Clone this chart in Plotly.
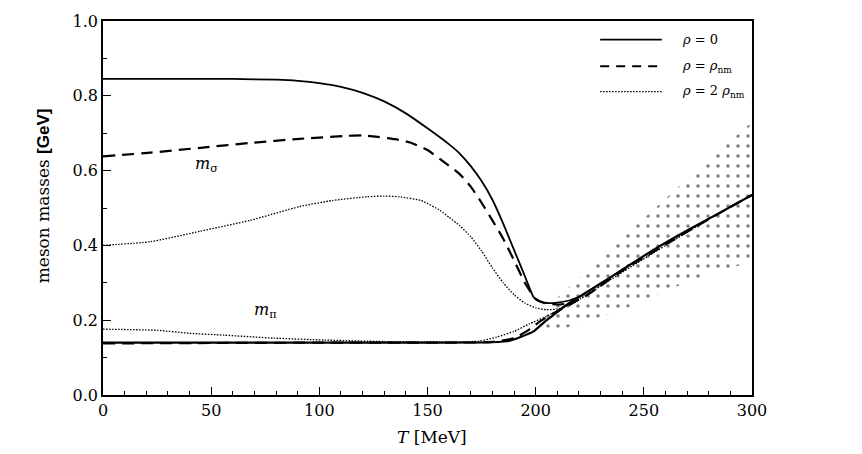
import plotly.graph_objects as go

# ---------------- data ----------------
# sigma mass, rho = 0
T_sig0 = [0, 20, 40, 60, 80, 90, 100, 110, 120, 130, 140, 150, 160, 165, 170, 175, 180, 185, 190, 195, 199, 201, 205, 210, 215, 222]
m_sig0 = [0.845, 0.845, 0.845, 0.845, 0.843, 0.840, 0.834, 0.824, 0.808, 0.785, 0.753, 0.713, 0.670, 0.645, 0.612, 0.572, 0.522, 0.458, 0.388, 0.318, 0.262, 0.252, 0.246, 0.247, 0.252, 0.266]
# pion mass, rho = 0
T_pi0 = [0, 50, 100, 150, 180, 188, 193, 199, 204, 208, 214, 220, 230, 240, 255, 270, 285, 300]
m_pi0 = [0.140, 0.140, 0.140, 0.140, 0.141, 0.145, 0.155, 0.170, 0.195, 0.213, 0.240, 0.262, 0.298, 0.335, 0.390, 0.440, 0.487, 0.535]
# sigma mass, rho = rho_nm
T_sig1 = [0, 22, 45, 68, 91, 113, 120, 127, 135, 142, 150, 156, 165, 170, 175, 180, 185, 190, 195, 200, 204, 210, 216]
m_sig1 = [0.638, 0.648, 0.661, 0.674, 0.685, 0.693, 0.694, 0.690, 0.684, 0.675, 0.655, 0.630, 0.590, 0.557, 0.514, 0.467, 0.418, 0.360, 0.300, 0.257, 0.246, 0.242, 0.245]
# pion mass, rho = rho_nm
T_pi1 = [0, 50, 100, 150, 180, 190, 197, 202, 208, 216, 225, 240, 260, 280, 300]
m_pi1 = [0.138, 0.139, 0.140, 0.140, 0.142, 0.152, 0.175, 0.197, 0.218, 0.242, 0.272, 0.332, 0.402, 0.470, 0.535]
# sigma mass, rho = 2 rho_nm
T_sig2 = [0, 22, 45, 68, 91, 106, 122, 130, 137, 147, 156, 160, 165, 170, 175, 180, 185, 190, 195, 200, 205, 211, 220]
m_sig2 = [0.400, 0.410, 0.438, 0.467, 0.504, 0.520, 0.530, 0.532, 0.530, 0.520, 0.493, 0.475, 0.452, 0.423, 0.385, 0.340, 0.300, 0.268, 0.246, 0.233, 0.228, 0.231, 0.255]
# pion mass, rho = 2 rho_nm
T_pi2 = [0, 25, 40, 56, 79, 102, 130, 160, 174, 182, 190, 197, 205, 213, 221, 235, 260, 280, 300]
m_pi2 = [0.176, 0.173, 0.165, 0.160, 0.152, 0.147, 0.143, 0.142, 0.144, 0.155, 0.170, 0.190, 0.210, 0.235, 0.258, 0.310, 0.400, 0.470, 0.535]
# shaded (dotted) band: upper and lower edges
T_band_up = [202, 210, 220, 240, 260, 280, 300]
m_band_up = [0.185, 0.260, 0.315, 0.420, 0.525, 0.630, 0.730]
T_band_lo = [202, 210, 240, 260, 280, 300]
m_band_lo = [0.185, 0.172, 0.228, 0.278, 0.325, 0.355]

x_ticks = [0, 50, 100, 150, 200, 250, 300]
y_ticks = [0.0, 0.2, 0.4, 0.6, 0.8, 1.0]
legend_labels = ["<i>ρ</i> = 0", "<i>ρ</i> = <i>ρ</i><sub>nm</sub>", "<i>ρ</i> = 2 <i>ρ</i><sub>nm</sub>"]

SERIF = "DejaVu Serif"

fig = go.Figure()

# band
fig.add_trace(go.Scatter(
    x=T_band_up + T_band_lo[::-1], y=m_band_up + m_band_lo[::-1],
    mode="lines", fill="toself", line=dict(width=0),
    fillcolor="rgba(0,0,0,0)",
    fillpattern=dict(shape=".", fgcolor="black", bgcolor="rgba(0,0,0,0)", size=10, solidity=0.1),
    hoverinfo="skip", showlegend=False))

styles = [
    (T_sig2, m_sig2, dict(color="black", width=1.3, dash="1.5px,1.5px")),
    (T_pi2, m_pi2, dict(color="black", width=1.3, dash="1.5px,1.5px")),
    (T_sig1, m_sig1, dict(color="black", width=2.2, dash="12px,7px")),
    (T_pi1, m_pi1, dict(color="black", width=2.2, dash="12px,7px")),
    (T_sig0, m_sig0, dict(color="black", width=1.8)),
    (T_pi0, m_pi0, dict(color="black", width=2.2)),
]
for xs, ys, ln in styles:
    ln = dict(ln, shape="spline", smoothing=0.5)
    fig.add_trace(go.Scatter(x=xs, y=ys, mode="lines", line=ln, showlegend=False, hoverinfo="skip"))

# curve labels
fig.add_annotation(x=48, y=0.617, xref="x", yref="y", text="<i>m</i><sub>σ</sub>", showarrow=False,
                   font=dict(family=SERIF, size=16, color="black"))
fig.add_annotation(x=75, y=0.225, xref="x", yref="y", text="<i>m</i><sub>π</sub>", showarrow=False,
                   font=dict(family=SERIF, size=16, color="black"))

# manual legend
leg_y = [0.950, 0.879, 0.811]
leg_dash = ["solid", "9px,7px", "1.5px,1.5px"]
leg_w = [1.8, 2.2, 1.2]
for yy, dsh, w, lab in zip(leg_y, leg_dash, leg_w, legend_labels):
    fig.add_shape(type="line", xref="paper", yref="paper", x0=0.766, x1=0.861, y0=yy, y1=yy,
                  line=dict(color="black", width=w, dash=dsh))
    fig.add_annotation(x=0.889, y=yy, xref="paper", yref="paper", text=lab, showarrow=False,
                       xanchor="left", yanchor="middle", font=dict(family=SERIF, size=13, color="black"))

# axis titles
fig.add_annotation(x=0.507, y=-0.112, xref="paper", yref="paper", showarrow=False,
                   xanchor="center", yanchor="middle",
                   text="<i>T</i> [MeV]", font=dict(family=SERIF, size=17, color="black"))
fig.add_annotation(x=-0.093, y=0.533, xref="paper", yref="paper", showarrow=False, textangle=-90,
                   xanchor="center", yanchor="middle",
                   text="meson masses <span style='font-family:Liberation Sans;font-weight:bold'>[GeV]</span>",
                   font=dict(family=SERIF, size=17, color="black"))

fig.update_xaxes(range=[0, 300], tickvals=x_ticks, ticktext=[str(v) for v in x_ticks],
                 ticks="inside", ticklen=8, tickwidth=1.2, tickcolor="black",
                 minor=dict(dtick=10, ticks="inside", ticklen=4, tickwidth=1, tickcolor="black"),
                 showline=True, linecolor="black", linewidth=1.5, mirror=True,
                 showgrid=False, zeroline=False,
                 tickfont=dict(family=SERIF, size=16, color="black"))
fig.update_yaxes(range=[0, 1], tickvals=y_ticks, ticktext=[f"{v:.1f}" for v in y_ticks],
                 ticks="inside", ticklen=8, tickwidth=1.2, tickcolor="black",
                 minor=dict(dtick=0.1, ticks="inside", ticklen=4, tickwidth=1, tickcolor="black"),
                 showline=True, linecolor="black", linewidth=1.5, mirror=True,
                 showgrid=False, zeroline=False,
                 tickfont=dict(family=SERIF, size=16, color="black"))

fig.update_layout(width=862, height=454, margin=dict(l=103, r=110, t=14, b=59),
                  paper_bgcolor="white", plot_bgcolor="white", showlegend=False)

fig.write_html("out.html")
